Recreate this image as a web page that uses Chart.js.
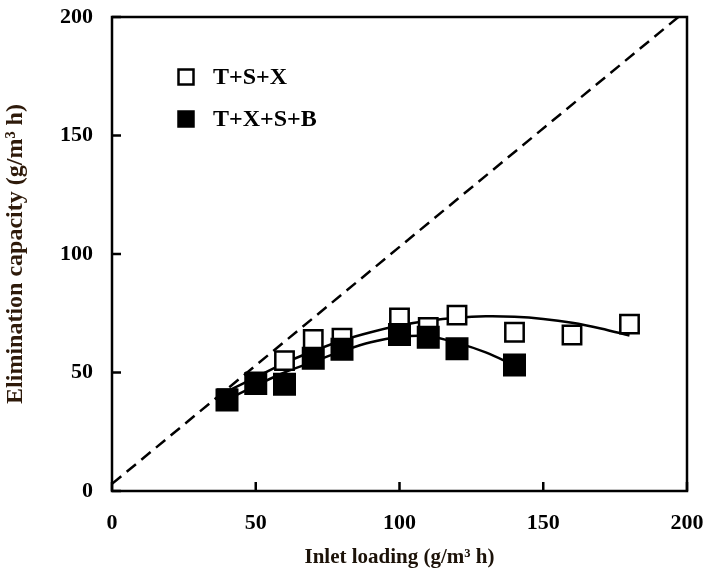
<!DOCTYPE html>
<html>
<head>
<meta charset="utf-8">
<script src="https://cdn.jsdelivr.net/npm/chart.js@4.4.0/dist/chart.umd.min.js"></script>
<style>
  html, body { margin: 0; padding: 0; background: #fff; }
</style>
</head>
<body>
<canvas id="ec" width="707" height="570"></canvas>
<script>
// inlet loading vs elimination capacity (g/m3 h)
const loadTSX = [40, 50, 60, 70, 80, 100, 110, 120, 140, 160, 180];
const ecTSX = [39, 46, 55, 64, 64.5, 73, 69, 74.2, 67, 65.8, 70.4];
const loadTXSB = [40, 50, 60, 70, 80, 100, 110, 120, 140];
const ecTXSB = [38.4, 45.4, 45, 56, 59.8, 66, 64.9, 60, 53.2];

// trend curves
const fitLoadTSX = [40, 50, 60, 70, 80, 90, 100, 110, 120, 130, 140, 150, 160, 170, 180];
const fitTSX = [42, 48, 54, 59, 63.5, 67, 69.8, 71.8, 73.1, 73.7, 73.5, 72.6, 71, 68.6, 65.6];
const fitLoadTXSB = [40, 50, 60, 70, 80, 90, 100, 110, 120, 130, 140];
const fitTXSB = [38.5, 44.5, 50, 54.5, 59, 62.8, 65, 65.3, 62.5, 58.5, 53];

// 1:1 line
const diagLoad = [0, 197];
const diagEC = [3, 200];

const axisTicks = [0, 50, 100, 150, 200];
const legendOrder = ['T+S+X', 'T+X+S+B'];

const serif = '"Liberation Serif", "Times New Roman", serif';

function pts(xs, ys) {
    return xs.map((x, i) => ({ x: x, y: ys[i] }));
}

// legend sits inside the plot, top left
const boxLegend = {
    id: 'boxLegend',
    afterDraw(chart) {
        const ctx = chart.ctx;
        const a = chart.chartArea;
        ctx.save();
        ctx.font = 'bold 24px ' + serif;
        ctx.textBaseline = 'middle';
        let y = a.top + 60;
        legendOrder.forEach(name => {
            const ds = chart.data.datasets.find(d => d.label === name);
            const x = a.left + 74;
            ctx.lineWidth = 2.5;
            ctx.strokeStyle = '#000';
            ctx.fillStyle = ds.backgroundColor;
            ctx.fillRect(x - 7.5, y - 7.5, 15, 15);
            ctx.strokeRect(x - 7.5, y - 7.5, 15, 15);
            ctx.fillStyle = '#000';
            ctx.fillText(ds.label, x + 27, y + 1);
            y += 42;
        });
        ctx.restore();
    }
};

// box around the plot + inward ticks
const frame = {
    id: 'frame',
    afterDatasetsDraw(chart) {
        const ctx = chart.ctx;
        const a = chart.chartArea;
        const sx = chart.scales.x, sy = chart.scales.y;
        ctx.save();
        ctx.strokeStyle = '#000';
        ctx.lineWidth = 2.5;
        ctx.strokeRect(a.left, a.top, a.right - a.left, a.bottom - a.top);
        ctx.beginPath();
        sx.ticks.forEach(t => {
            const px = sx.getPixelForValue(t.value);
            ctx.moveTo(px, a.bottom);
            ctx.lineTo(px, a.bottom - 9);
        });
        sy.ticks.forEach(t => {
            const py = sy.getPixelForValue(t.value);
            ctx.moveTo(a.left, py);
            ctx.lineTo(a.left + 9, py);
        });
        ctx.stroke();
        ctx.restore();
    }
};

new Chart(document.getElementById('ec'), {
    type: 'scatter',
    data: {
        datasets: [
            {
                label: 'T+X+S+B',
                data: pts(loadTXSB, ecTXSB),
                pointStyle: 'rect',
                pointRadius: 14.5,
                pointHoverRadius: 14.5,
                backgroundColor: '#000',
                borderColor: '#000',
                borderWidth: 2.5,
                order: 0
            },
            {
                label: 'T+S+X',
                data: pts(loadTSX, ecTSX),
                pointStyle: 'rect',
                pointRadius: 13,
                pointHoverRadius: 13,
                backgroundColor: '#fff',
                borderColor: '#000',
                borderWidth: 2.5,
                order: 1
            },
            {
                label: 'fit T+S+X',
                data: pts(fitLoadTSX, fitTSX),
                showLine: true,
                pointRadius: 0,
                borderColor: '#000',
                borderWidth: 2.5,
                tension: 0.35,
                order: 2
            },
            {
                label: 'fit T+X+S+B',
                data: pts(fitLoadTXSB, fitTXSB),
                showLine: true,
                pointRadius: 0,
                borderColor: '#000',
                borderWidth: 2.5,
                tension: 0.35,
                order: 2
            },
            {
                label: '1:1',
                data: pts(diagLoad, diagEC),
                showLine: true,
                pointRadius: 0,
                borderColor: '#000',
                borderWidth: 2.5,
                borderDash: [12, 7],
                order: 3
            }
        ]
    },
    options: {
        responsive: false,
        animation: false,
        layout: { padding: { top: 10, right: 20, left: 0, bottom: 0 } },
        plugins: {
            legend: { display: false },
            tooltip: { enabled: false }
        },
        scales: {
            x: {
                type: 'linear',
                min: 0,
                max: 200,
                afterBuildTicks: s => { s.ticks = axisTicks.map(v => ({ value: v })); },
                afterFit: s => { s.height = 79; s.paddingLeft = 0; s.paddingRight = 0; },
                grid: { display: false, drawTicks: false },
                border: { display: false },
                ticks: {
                    padding: 19,
                    color: '#000',
                    font: { family: serif, weight: 'bold', size: 22 }
                },
                title: {
                    display: true,
                    text: 'Inlet loading (g/m³ h)',
                    color: '#1c1208',
                    padding: { top: 0, bottom: 0 },
                    font: { family: serif, weight: 'bold', size: 21 }
                }
            },
            y: {
                type: 'linear',
                min: 0,
                max: 200,
                afterBuildTicks: s => { s.ticks = axisTicks.map(v => ({ value: v })); },
                afterFit: s => { s.width = 112; s.paddingTop = 0; s.paddingBottom = 0; },
                grid: { display: false, drawTicks: false },
                border: { display: false },
                ticks: {
                    padding: 19,
                    color: '#000',
                    font: { family: serif, weight: 'bold', size: 22 }
                },
                title: {
                    display: true,
                    text: 'Elimination capacity (g/m³ h)',
                    color: '#2e1a0a',
                    padding: { top: 1, bottom: 0 },
                    font: { family: serif, weight: 'bold', size: 24 }
                }
            }
        }
    },
    plugins: [frame, boxLegend]
});
</script>
</body>
</html>
